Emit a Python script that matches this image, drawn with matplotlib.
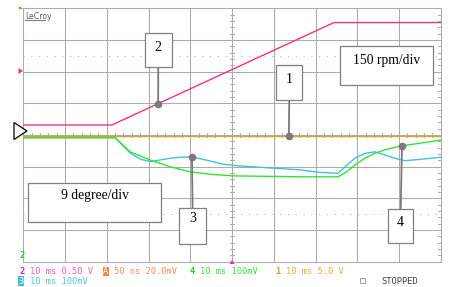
import numpy as np
import matplotlib
matplotlib.use("Agg")
import matplotlib.pyplot as plt
from matplotlib.patches import Rectangle, Polygon

# ---- data (time in ms, amplitude in screen divisions) ----
pink_t = [0, 21.2, 74.4, 100]
pink_y = [0.315, 0.315, 3.55, 3.55]

orange_t = [0, 100]
orange_y = [-0.016, -0.016]

green_t = [0, 22.0, 25.6, 30.4, 35.1, 39.9, 44.7, 50.2, 66.3, 75.4, 77.5, 79.4,
           81.8, 84.2, 86.6, 90.2, 95.0, 100]
green_y = [-0.085, -0.085, -0.53, -0.79, -1.0, -1.16, -1.24, -1.29, -1.32, -1.32,
           -1.16, -0.95, -0.735, -0.58, -0.47, -0.35, -0.26, -0.16]

cyan_t = [0, 22.0, 25.6, 28.0, 30.4, 32.7, 35.1, 37.5, 40.4, 44.7, 47.8, 51.2, 58.0,
          66.3, 71.0, 75.4, 77.1, 79.4, 81.8, 84.2, 86.6, 89.0, 91.4, 95.0, 100]
cyan_y = [-0.085, -0.085, -0.57, -0.76, -0.84, -0.79, -0.735, -0.70, -0.69, -0.82,
          -0.92, -0.97, -1.03, -1.10, -1.18, -1.21, -1.0, -0.735, -0.58, -0.53,
          -0.63, -0.735, -0.81, -0.77, -0.70]

labels = ["1", "2", "3", "4"]
label_t = [63.6, 32.3, 40.4, 90.7]
scale_labels = ["150 rpm/div", "9 degree/div"]

W, H = 459, 287
fig = plt.figure(figsize=(W / 100, H / 100), dpi=100)
fig.patch.set_facecolor("white")

L, R, T, B = 23.3, 440.8, 8.3, 261.7
ax = fig.add_axes([L / W, (H - B) / H, (R - L) / W, (B - T) / H])
ax.set_xlim(0, 100)
ax.set_ylim(-4, 4)
ax.axis("off")

gcol = "#ababab"
for x in range(0, 101, 10):
    ax.plot([x, x], [-4, 4], color=gcol, lw=0.75, zorder=1, clip_on=False)
for y in range(-4, 5):
    ax.plot([0, 100], [y, y], color=gcol, lw=0.75, zorder=1, clip_on=False)
for y in (2.5, -2.5):
    ax.plot([0, 100], [y, y], color="#b8b8b8", lw=0.8, ls=(0, (1, 6)), zorder=1)
# center-line ticks
for y in np.arange(-4, 4.01, 0.2):
    ax.plot([49.5, 50.5], [y, y], color=gcol, lw=0.7, zorder=1)
    ax.plot([99.3, 100], [y, y], color=gcol, lw=0.7, zorder=1)
for x in np.arange(0, 100.1, 2):
    ax.plot([x, x], [-0.065, 0.065], color=gcol, lw=0.7, zorder=1)

# traces
ax.plot(cyan_t, cyan_y, color="#3fc3dc", lw=1.0, zorder=3)
ax.plot(green_t, green_y, color="#2fe62f", lw=1.0, zorder=4)
ax.plot(orange_t, orange_y, color="#dba22a", lw=1.0, zorder=5)
ax.plot(pink_t, pink_y, color="#f4307e", lw=1.0, zorder=6)

trace_for = {"1": (orange_t, orange_y), "2": (pink_t, pink_y),
             "3": (cyan_t, cyan_y), "4": (green_t, green_y)}

serif = "Liberation Serif"
bcol = "#808080"

def box(x0, x1, y0, y1):
    ax.add_patch(Rectangle((x0, y0), x1 - x0, y1 - y0, facecolor="white",
                           edgecolor=bcol, lw=0.9, zorder=8))

# label boxes: (x0, x1, y0, y1, text baseline y, leader end at box)
box_geo = {"1": (60.6, 66.8, 1.104, 2.208, 1.65, 1.104),
           "2": (29.15, 35.5, 2.136, 3.208, 2.66, 2.136),
           "3": (37.4, 43.7, -3.448, -2.312, -2.754, -2.312),
           "4": (87.4, 93.4, -3.416, -2.344, -2.87, -2.344)}
for lab, t in zip(labels, label_t):
    x0, x1, y0, y1, yb, ye = box_geo[lab]
    tt, yy = trace_for[lab]
    yv = float(np.interp(t, tt, yy))
    xc = (x0 + x1) / 2
    ax.plot([xc, t], [ye, yv], color="#7a7a7a", lw=1.3, zorder=7)
    ax.plot([t], [yv], "o", color="#7a7a7a", ms=4.5, zorder=9)
    box(x0, x1, y0, y1)
    ax.text(xc, yb, lab, ha="center", va="baseline", fontsize=10,
            family=serif, color="black", zorder=10)

box(75.9, 98.2, 1.568, 2.808)
ax.text(87.0, 2.24, scale_labels[0], ha="center", va="baseline", fontsize=9.8,
        family=serif, zorder=10)
box(1.2, 33.1, -2.754, -1.524)
ax.text(17.2, -2.036, scale_labels[1], ha="center", va="baseline", fontsize=9.8,
        family=serif, zorder=10)

# decorations in pixel coordinates
def px(x, y):
    return (x / W, 1 - y / H)

fig.patches.append(Polygon([px(14, 122.5), px(14, 139.5), px(27, 131)], closed=True,
                           facecolor="white", edgecolor="black", lw=0.9,
                           transform=fig.transFigure, figure=fig))
fig.patches.append(Polygon([px(18.5, 68), px(18.5, 74), px(23, 71)], closed=True,
                           facecolor="#f4307e", edgecolor="none",
                           transform=fig.transFigure, figure=fig))
fig.patches.append(Polygon([px(19, 6.5), px(19, 9.5), px(23.5, 8.3)], closed=True,
                           facecolor="#f07030", edgecolor="none",
                           transform=fig.transFigure, figure=fig))
fig.patches.append(Polygon([px(229.5, 264), px(234.5, 264), px(232, 260)], closed=True,
                           facecolor="#f4307e", edgecolor="none",
                           transform=fig.transFigure, figure=fig))

fig.text(*px(25, 19), "LeCroy", fontsize=5.6, color="#606060", family="DejaVu Sans",
         ha="left", va="baseline")
fig.lines.append(plt.Line2D([25 / W, 45 / W], [1 - 19.5 / H, 1 - 19.5 / H],
                            color="#808080", lw=0.8, transform=fig.transFigure))

fig.text(*px(19, 258), "2", fontsize=6.3, color="#30c030", family="DejaVu Sans Mono",
         fontweight="bold", ha="left", va="baseline")

mono = "DejaVu Sans Mono"
fs = 6.3
row1 = 274
row2 = 283.5
fig.text(*px(19, row1), "2", fontsize=fs, color="#ff2080", family=mono,
         fontweight="bold", va="baseline")
fig.text(*px(30, row1), "10 ms 0.50 V", fontsize=fs, color="#f060a8", family=mono,
         va="baseline")
fig.text(*px(103, row1), "A", fontsize=fs, color="white", family=mono, va="baseline",
         bbox=dict(boxstyle="square,pad=0.05", fc="#f08040", ec="none"))
fig.text(*px(114, row1), "50 ns 20.0mV", fontsize=fs, color="#f09060", family=mono,
         va="baseline")
fig.text(*px(190, row1), "4", fontsize=fs, color="#20d020", family=mono,
         fontweight="bold", va="baseline")
fig.text(*px(200, row1), "10 ms 100mV", fontsize=fs, color="#40e040", family=mono,
         va="baseline")
fig.text(*px(275, row1), "1", fontsize=fs, color="#e0a020", family=mono,
         fontweight="bold", va="baseline")
fig.text(*px(286, row1), "10 ms 5.0 V", fontsize=fs, color="#e0b040", family=mono,
         va="baseline")
fig.text(*px(18, row2), "3", fontsize=fs, color="white", family=mono, va="baseline",
         bbox=dict(boxstyle="square,pad=0.05", fc="#40c0d0", ec="none"))
fig.text(*px(30, row2), "10 ms 100mV", fontsize=fs, color="#50c8e0", family=mono,
         va="baseline")
fig.patches.append(Rectangle(px(359.5, 283), 5 / W, 5 / H, facecolor="white",
                             edgecolor="#909090", lw=0.6, transform=fig.transFigure,
                             figure=fig))
fig.text(*px(381, row2), "STOPPED", fontsize=fs, color="#404040", family=mono,
         va="baseline")

fig.savefig("out.png", dpi=100)
